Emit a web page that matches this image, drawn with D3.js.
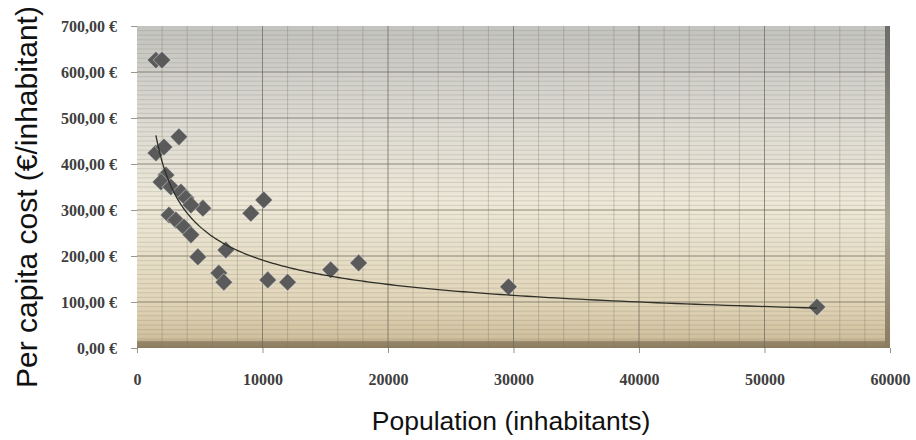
<!DOCTYPE html>
<html>
<head>
<meta charset="utf-8">
<script src="https://cdn.jsdelivr.net/npm/d3@7"></script>
<style>
  body { margin: 0; background: #fff; }
  .tick text { font-family: "Liberation Serif", "DejaVu Serif", serif; font-weight: bold; font-size: 16px; fill: #3e3e3e; }
  .title { font-family: "Liberation Sans", Arial, sans-serif; fill: #111; }
</style>
</head>
<body>
<svg id="chart" width="916" height="440"></svg>
<script>
// population (inhabitants) and per capita cost (EUR/inhabitant)
var population = [1510, 1990, 1510, 2150, 3340, 2310, 1910, 2700, 3500, 3900, 5250, 4300,
                  2550, 3100, 3740, 4300, 4850, 7080, 6520, 6920, 9070, 10100, 10420, 12000,
                  15430, 17660, 29600, 54180];
var cost = [626, 626, 424, 437, 459, 376, 361, 350, 339, 326, 304, 311,
            289, 278, 263, 246, 198, 213, 163, 143, 293, 322, 148, 143,
            170, 185, 133, 89];
var xTicks = [0, 10000, 20000, 30000, 40000, 50000, 60000];
var yTicks = [0, 100, 200, 300, 400, 500, 600, 700];
// power trendline y = a * x^b as drawn in the picture
var trendA = 14100, trendB = -0.467;

var pts = population.map(function (p, i) { return { x: p, y: cost[i] }; });

var plotL = 137, plotR = 890, plotT = 26, plotB = 348;
var svg = d3.select('#chart');

var x = d3.scaleLinear().domain([0, 60000]).range([plotL, plotR]);
var y = d3.scaleLinear().domain([0, 700]).range([plotB, plotT]);

var euro = d3.formatLocale({ decimal: ',', thousands: '.', grouping: [3], currency: ['', ' €'] });

var defs = svg.append('defs');
var bg = defs.append('linearGradient').attr('id', 'bg').attr('x1', 0).attr('y1', 0).attr('x2', 0).attr('y2', 1);
bg.append('stop').attr('offset', '0%').attr('stop-color', '#c3c3bf');
bg.append('stop').attr('offset', '30%').attr('stop-color', '#dcdad2');
bg.append('stop').attr('offset', '55%').attr('stop-color', '#ede8d8');
bg.append('stop').attr('offset', '85%').attr('stop-color', '#e2d6ba');
bg.append('stop').attr('offset', '97%').attr('stop-color', '#d0c09e');
bg.append('stop').attr('offset', '100%').attr('stop-color', '#8f8166');

var edge = defs.append('linearGradient').attr('id', 'edge').attr('x1', 0).attr('y1', 0).attr('x2', 0).attr('y2', 1);
edge.append('stop').attr('offset', '0%').attr('stop-color', '#6c6c68');
edge.append('stop').attr('offset', '60%').attr('stop-color', '#a9a494');
edge.append('stop').attr('offset', '100%').attr('stop-color', '#8a7c60');

svg.append('rect')
    .attr('x', plotL).attr('y', plotT)
    .attr('width', plotR - plotL).attr('height', plotB - plotT)
    .attr('fill', 'url(#bg)');

// bottom shading band
svg.append('rect')
    .attr('x', plotL).attr('y', plotB - 7)
    .attr('width', plotR - plotL).attr('height', 7)
    .attr('fill', '#85765a').attr('opacity', 0.6);

// minor grid
var minorX = d3.range(0, 60001, 2000).filter(function (v) { return v % 10000 !== 0; });
var minorY = d3.range(0, 701, 10).filter(function (v) { return v % 100 !== 0; });
svg.append('g').selectAll('line').data(minorX).enter().append('line')
    .attr('x1', function (d) { return x(d); }).attr('x2', function (d) { return x(d); })
    .attr('y1', plotT).attr('y2', plotB)
    .attr('stroke', '#7d7664').attr('stroke-opacity', 0.35).attr('stroke-width', 1);
svg.append('g').selectAll('line').data(minorY).enter().append('line')
    .attr('x1', plotL).attr('x2', plotR)
    .attr('y1', function (d) { return y(d); }).attr('y2', function (d) { return y(d); })
    .attr('stroke', '#7d7664').attr('stroke-opacity', 0.22).attr('stroke-width', 1);

// major grid
svg.append('g').selectAll('line').data(xTicks.slice(1, -1)).enter().append('line')
    .attr('x1', function (d) { return x(d); }).attr('x2', function (d) { return x(d); })
    .attr('y1', plotT).attr('y2', plotB)
    .attr('stroke', '#6e6a5c').attr('stroke-opacity', 0.75);
svg.append('g').selectAll('line').data(yTicks.slice(1, -1)).enter().append('line')
    .attr('x1', plotL).attr('x2', plotR)
    .attr('y1', function (d) { return y(d); }).attr('y2', function (d) { return y(d); })
    .attr('stroke', '#6e6a5c').attr('stroke-opacity', 0.75);

// right edge strip
svg.append('rect')
    .attr('x', plotR - 5).attr('y', plotT)
    .attr('width', 5).attr('height', plotB - plotT)
    .attr('fill', 'url(#edge)');

// axes
var xAxis = svg.append('g')
    .attr('transform', 'translate(0,' + plotB + ')')
    .call(d3.axisBottom(x).tickValues(xTicks).tickFormat(d3.format('d')).tickSize(5).tickPadding(21));
var yAxis = svg.append('g')
    .attr('transform', 'translate(' + plotL + ',0)')
    .call(d3.axisLeft(y).tickValues(yTicks).tickFormat(euro.format('$.2f')).tickSize(6).tickPadding(14));
[xAxis, yAxis].forEach(function (a) {
    a.select('.domain').remove();
    a.selectAll('.tick line').attr('stroke', '#9a968a');
});

var xs = d3.extent(population);
var trend = d3.range(0, 201).map(function (i) {
    var v = Math.exp(Math.log(xs[0]) + (Math.log(xs[1]) - Math.log(xs[0])) * i / 200);
    return { x: v, y: trendA * Math.pow(v, trendB) };
});

// markers
svg.append('g').selectAll('path').data(pts).enter().append('path')
    .attr('d', d3.symbol(d3.symbolSquare, 155))
    .attr('transform', function (d) { return 'translate(' + x(d.x) + ',' + y(d.y) + ') rotate(45)'; })
    .attr('fill', '#5a5a5a')
    .attr('stroke', '#ffffff').attr('stroke-opacity', 0.35).attr('stroke-width', 1);

svg.append('path')
    .datum(trend)
    .attr('d', d3.line().x(function (d) { return x(d.x); }).y(function (d) { return y(d.y); }))
    .attr('fill', 'none')
    .attr('stroke', '#2f2f28')
    .attr('stroke-width', 1.3);

// titles
svg.append('text').attr('class', 'title')
    .attr('transform', 'translate(37,197) rotate(-90)')
    .attr('text-anchor', 'middle')
    .style('font-size', '30px')
    .text('Per capita cost (€/inhabitant)');
svg.append('text').attr('class', 'title')
    .attr('x', 511).attr('y', 430)
    .attr('text-anchor', 'middle')
    .style('font-size', '26.5px')
    .text('Population (inhabitants)');
</script>
</body>
</html>
